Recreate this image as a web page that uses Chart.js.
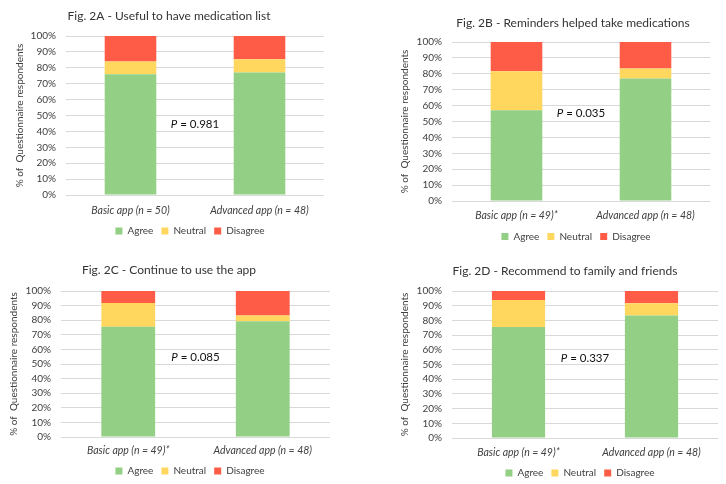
<!DOCTYPE html>
<html>
<head>
<meta charset="utf-8">
<script src="https://cdn.jsdelivr.net/npm/chart.js@4.4.1/dist/chart.umd.min.js"></script>
<style>
  html, body { margin: 0; padding: 0; background: #fff; width: 726px; height: 484px; overflow: hidden; }
  canvas { position: absolute; }
</style>
</head>
<body>
<canvas id="fig2a" width="363" height="247" style="left:0px;top:0px;"></canvas>
<canvas id="fig2b" width="336" height="252" style="left:390px;top:0px;"></canvas>
<canvas id="fig2c" width="363" height="245" style="left:0px;top:242px;"></canvas>
<canvas id="fig2d" width="336" height="247" style="left:390px;top:242px;"></canvas>
<script>
// categories
const groupsA = ['Basic app (n = 50)', 'Advanced app (n = 48)'];
const groupsStar = ['Basic app (n = 49)*', 'Advanced app (n = 48)'];
const seriesNames = ['Agree', 'Neutral', 'Disagree'];
const yTicks = [0, 10, 20, 30, 40, 50, 60, 70, 80, 90, 100];

// % of respondents, [basic, advanced]
const fig2aAgree = [76, 77.1];
const fig2aNeutral = [8, 8.3];
const fig2aDisagree = [16, 14.6];

const fig2bAgree = [57.1, 77.1];
const fig2bNeutral = [24.5, 6.2];
const fig2bDisagree = [18.4, 16.7];

const fig2cAgree = [75.5, 79.2];
const fig2cNeutral = [16.3, 4.1];
const fig2cDisagree = [8.2, 16.7];

const fig2dAgree = [75.5, 83.3];
const fig2dNeutral = [18.4, 8.4];
const fig2dDisagree = [6.1, 8.3];

const pValues = ['0.981', '0.035', '0.085', '0.337'];

const colors = ['#93D085', '#FFD75E', '#FF5C47'];
const FONT = 'Lato, "Liberation Sans", sans-serif';
Chart.defaults.font.family = FONT;

// shifts title / legend sideways after layout (Excel centres them on the whole chart box)
const boxShift = {
    id: 'boxShift',
    afterUpdate(chart, args, opts) {
        const t = chart.titleBlock;
        const l = chart.legend;
        if (t) { t.left += opts.title; t.right += opts.title; }
        if (l) { l.left += opts.legend; l.right += opts.legend; }
    }
};

// "P = x.xxx" in the middle of the plot
const pLabel = {
    id: 'pLabel',
    afterDatasetsDraw(chart, args, opts) {
        const { ctx, chartArea } = chart;
        const y = chart.scales.y.getPixelForValue(opts.at);
        const italic = 'italic 11.5px ' + FONT;
        const normal = '11.5px ' + FONT;
        const rest = ' = ' + opts.value;
        ctx.save();
        ctx.font = italic;
        const w1 = ctx.measureText('P').width;
        ctx.font = normal;
        const w2 = ctx.measureText(rest).width;
        const x = (chartArea.left + chartArea.right) / 2 - (w1 + w2) / 2;
        ctx.textBaseline = 'middle';
        ctx.fillStyle = '#111';
        ctx.font = italic;
        ctx.fillText('P', x, y);
        ctx.font = normal;
        ctx.fillText(rest, x + w1, y);
        ctx.restore();
    }
};

function makeChart(id, c) {
    const values = [c.agree, c.neutral, c.disagree];
    new Chart(document.getElementById(id), {
        type: 'bar',
        data: {
            labels: c.labels,
            datasets: seriesNames.map((name, i) => ({
                label: name,
                data: values[i],
                backgroundColor: colors[i],
                borderWidth: 0,
                barPercentage: 0.4,
                categoryPercentage: 1
            }))
        },
        options: {
            responsive: false,
            animation: false,
            devicePixelRatio: 1,
            layout: { padding: { left: 0, right: c.padRight, top: 0, bottom: c.padBottom } },
            scales: {
                x: {
                    stacked: true,
                    grid: { display: false, drawTicks: false },
                    border: { display: false },
                    ticks: {
                        color: '#404040',
                        padding: c.xPad,
                        font: { size: 10.5, style: 'italic' }
                    },
                    afterFit: s => { s.height = c.xHeight; }
                },
                y: {
                    stacked: true,
                    min: 0,
                    max: 100,
                    afterBuildTicks: s => { s.ticks = yTicks.map(v => ({ value: v })); },
                    grid: { color: '#D9D9D9', drawTicks: false },
                    border: { display: false },
                    ticks: {
                        color: '#404040',
                        padding: 10,
                        autoSkip: false,
                        font: { size: 10 },
                        callback: v => v + '%'
                    },
                    title: {
                        display: true,
                        text: '% of  Questionnaire respondents',
                        color: '#404040',
                        font: { size: 10 },
                        padding: { top: c.yTitlePad, bottom: 0 }
                    },
                    afterFit: s => { s.width = c.yWidth; }
                }
            },
            plugins: {
                title: {
                    display: true,
                    text: c.title,
                    color: '#333333',
                    font: { size: 12, weight: 'normal' },
                    padding: { top: c.titleTop, bottom: c.titleBottom }
                },
                legend: {
                    position: 'bottom',
                    labels: {
                        color: '#404040',
                        boxWidth: 7,
                        boxHeight: 7,
                        padding: 8,
                        font: { size: 10 }
                    }
                },
                tooltip: { enabled: false },
                boxShift: { title: c.titleDx, legend: c.legendDx },
                pLabel: { value: c.p, at: c.pAt }
            }
        },
        plugins: [boxShift, pLabel]
    });
}

makeChart('fig2a', {
    title: 'Fig. 2A - Useful to have medication list', labels: groupsA,
    agree: fig2aAgree, neutral: fig2aNeutral, disagree: fig2aDisagree, p: pValues[0], pAt: 44.6,
    padRight: 39, padBottom: 1, yWidth: 66, yTitlePad: 13.5, xPad: 9.2, xHeight: 23,
    titleTop: 8.8, titleBottom: 12.8, titleDx: 7, legendDx: 28
});
makeChart('fig2b', {
    title: 'Fig. 2B - Reminders helped take medications', labels: groupsStar,
    agree: fig2bAgree, neutral: fig2bNeutral, disagree: fig2bDisagree, p: pValues[1], pAt: 55.3,
    padRight: 16, padBottom: 0.5, yWidth: 62, yTitlePad: 9, xPad: 8.2, xHeight: 22.5,
    titleTop: 15.8, titleBottom: 11.8, titleDx: 23, legendDx: 26
});
makeChart('fig2c', {
    title: 'Fig. 2C - Continue to use the app', labels: groupsStar,
    agree: fig2cAgree, neutral: fig2cNeutral, disagree: fig2cDisagree, p: pValues[2], pAt: 54.8,
    padRight: 33, padBottom: 1, yWidth: 61, yTitlePad: 8, xPad: 7.7, xHeight: 21,
    titleTop: 20.8, titleBottom: 13.8, titleDx: 4, legendDx: 25
});
makeChart('fig2d', {
    title: 'Fig. 2D - Recommend to family and friends', labels: groupsStar,
    agree: fig2dAgree, neutral: fig2dNeutral, disagree: fig2dDisagree, p: pValues[3], pAt: 54.4,
    padRight: 8, padBottom: 1, yWidth: 62, yTitlePad: 9, xPad: 8.7, xHeight: 22,
    titleTop: 21.8, titleBottom: 12.8, titleDx: 11, legendDx: 26
});
</script>
</body>
</html>
